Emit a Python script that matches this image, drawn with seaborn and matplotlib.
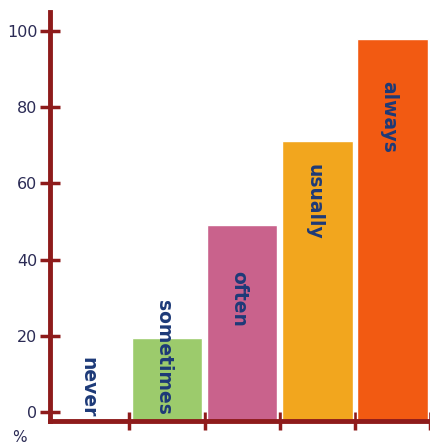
import matplotlib
matplotlib.use("Agg")
import matplotlib.pyplot as plt
import seaborn as sns
import pandas as pd

categories = ["never", "sometimes", "often", "usually", "always"]
values = [0, 19.5, 49, 71, 98]
colors = ["#ffffff", "#9ccb6c", "#c9628c", "#f2a61e", "#f25a12"]
label_top = [14.5, 29.5, 37, 65, 87]
yticks = [0, 20, 40, 60, 80, 100]

sns.set_style("white")
plt.rcParams['font.family'] = ['DejaVu Sans']

df = pd.DataFrame({"cat": categories, "val": values})

fig = plt.figure(figsize=(4.30, 4.44), dpi=100)
ax = fig.add_axes([50/430, 23/444, 380/430, 409/444])

ybottom = -2.4
sns.barplot(data=df, x="cat", y="val", hue="cat", palette=colors,
            width=0.94, legend=False, ax=ax, saturation=1)
# extend bars down to the axis line
for p in ax.patches:
    h = p.get_height()
    p.set_y(ybottom)
    p.set_height(h - ybottom)
    if h == 0:
        p.set_visible(False)

axis_col = "#8e1b1b"
navy = "#1d3a78"

for i, (c, t) in enumerate(zip(categories, label_top)):
    ax.text(i - 0.05, t, c, rotation=270, ha="center", va="top",
            fontsize=13.5, fontweight="bold", color=navy)

ax.set_xlim(-0.556, 4.477)
ax.set_ylim(ybottom, 105)
ax.set_yticks(yticks)
ax.set_yticklabels([str(v) for v in yticks])
ax.set_xticks([i + 0.5 for i in range(len(categories))])
ax.set_xticklabels([])
ax.set_xlabel("")
ax.set_ylabel("")

for s in ["top", "right"]:
    ax.spines[s].set_visible(False)
for s in ["left", "bottom"]:
    ax.spines[s].set_color(axis_col)
    ax.spines[s].set_linewidth(3.5)

ax.tick_params(axis="y", left=True, direction="inout", length=14, width=2.5,
               color=axis_col, labelcolor="#2b2b55", labelsize=11.5, pad=2)
ax.tick_params(axis="x", bottom=True, direction="inout", length=13, width=2.5,
               color=axis_col)

fig.text(12/430, 1 - 437/444, "%", fontsize=11, color="#2b2b55",
         ha="left", va="center")

fig.savefig("out.png", dpi=100)
